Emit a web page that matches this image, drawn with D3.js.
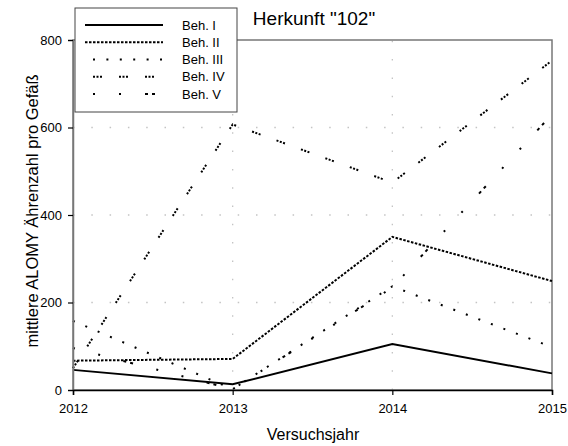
<!DOCTYPE html>
<html>
<head>
<meta charset="utf-8">
<script src="https://cdn.jsdelivr.net/npm/d3@7"></script>
<style>
  body { margin: 0; background: #fff; }
  svg { font-family: "Liberation Sans", Arial, sans-serif; }
</style>
</head>
<body>
<div id="chart"></div>
<script>
// Values.
var years = [2012, 2013, 2014, 2015];
var behI = [46, 13, 105, 38];
var behII = [67, 71, 350, 249];
var behIII = [158, 2, 237, 98];
var behIV = [50, 607, 474, 753];
var behV = [96, 2, 234, 630];

var seriesNames = ["Beh. I", "Beh. II", "Beh. III", "Beh. IV", "Beh. V"];
var yTicks = [0, 200, 400, 600, 800];
var gridValues = [200, 400, 600];
var gridYears = [2013, 2014];

var width = 568, height = 446;

var svg = d3.select("#chart").append("svg")
  .attr("width", width)
  .attr("height", height);

var x = d3.scaleLinear()
  .domain([2012, 2015])
  .range([73, 552]);

var y = d3.scaleLinear()
  .domain([0, 800])
  .range([390, 40]);

// dash patterns per series, the legend uses the same ones
var dashes = [null, "2.5,1.5", "2,11.4", "2,1.5,2,1.5,2,17", "2,24,2,24,3,4,3,24"];
var widths = [2, 2, 2, 2, 2];

var series = [behI, behII, behIII, behIV, behV].map(function(vals, i) {
  return {
    name: seriesNames[i],
    dash: dashes[i],
    points: vals.map(function(v, j) { return {year: years[j], value: v}; })
  };
});

// grid
var grid = svg.append("g").attr("stroke", "#c4c4c4").attr("stroke-width", 1.3)
  .attr("stroke-dasharray", "1.5,16.8");

grid.selectAll(".hgrid")
  .data(gridValues)
  .enter().append("line")
    .attr("class", "hgrid")
    .attr("x1", x(2012)).attr("x2", x(2015))
    .attr("y1", d => y(d)).attr("y2", d => y(d));

grid.selectAll(".vgrid")
  .data(gridYears)
  .enter().append("line")
    .attr("class", "vgrid")
    .attr("x1", d => x(d)).attr("x2", d => x(d))
    .attr("y1", y(0)).attr("y2", y(800));

// frame
svg.append("rect")
  .attr("x", x(2012)).attr("y", y(800))
  .attr("width", x(2015) - x(2012))
  .attr("height", y(0) - y(800))
  .attr("fill", "none")
  .attr("stroke", "#777")
  .attr("stroke-width", 1.5);

// lines
var line = d3.line()
  .x(d => x(d.year))
  .y(d => y(d.value));

svg.append("g").selectAll(".series")
  .data(series)
  .enter().append("path")
    .attr("class", "series")
    .attr("d", d => line(d.points))
    .attr("fill", "none")
    .attr("stroke", "#000")
    .attr("stroke-width", (d, i) => widths[i])
    .attr("stroke-dasharray", d => d.dash);

// axes
var yAxis = svg.append("g")
  .attr("transform", "translate(" + x(2012) + ",0)")
  .call(d3.axisLeft(y).tickValues(yTicks).tickSize(5).tickPadding(6).tickFormat(d3.format("d")));

var xAxis = svg.append("g")
  .attr("transform", "translate(0," + y(0) + ")")
  .call(d3.axisBottom(x).tickValues(years).tickSize(5).tickPadding(9).tickFormat(d3.format("d")));

[yAxis, xAxis].forEach(function(ax) {
  ax.selectAll("text").attr("font-size", 13).attr("fill", "#000")
    .attr("font-family", "Liberation Sans, Arial, sans-serif");
  ax.selectAll(".tick line").attr("stroke", "#000").attr("stroke-width", 1.2);
});
yAxis.select(".domain").attr("stroke", "#777").attr("stroke-width", 1.5);
xAxis.select(".domain").attr("stroke", "#000").attr("stroke-width", 1.5);

// titles
svg.append("text")
  .attr("x", 314).attr("y", 25)
  .attr("text-anchor", "middle")
  .attr("font-size", 19)
  .text("Herkunft \"102\"");

svg.append("text")
  .attr("x", 313).attr("y", 440)
  .attr("text-anchor", "middle")
  .attr("font-size", 16)
  .text("Versuchsjahr");

svg.append("text")
  .attr("transform", "translate(38,211) rotate(-90)")
  .attr("text-anchor", "middle")
  .attr("font-size", 16.5)
  .text("mittlere ALOMY Ährenzahl pro Gefäß");

// legend
var legend = svg.append("g");

legend.append("rect")
  .attr("x", 75).attr("y", 8)
  .attr("width", 162).attr("height", 104)
  .attr("fill", "#fff")
  .attr("stroke", "#444")
  .attr("stroke-width", 1);

var rowY = d3.scaleLinear().domain([0, 4]).range([25, 94]);

var row = legend.selectAll(".row")
  .data(series)
  .enter().append("g")
    .attr("class", "row")
    .attr("transform", (d, i) => "translate(0," + rowY(i) + ")");

row.append("line")
  .attr("x1", 85).attr("x2", 163)
  .attr("stroke", "#000")
  .attr("stroke-width", (d, i) => widths[i])
  .attr("stroke-dasharray", d => d.dash)
  .attr("stroke-dashoffset", (d, i) => i < 2 ? 0 : -8);

row.append("text")
  .attr("x", 182)
  .attr("dy", "0.36em")
  .attr("font-size", 13)
  .text(d => d.name);
</script>
</body>
</html>
